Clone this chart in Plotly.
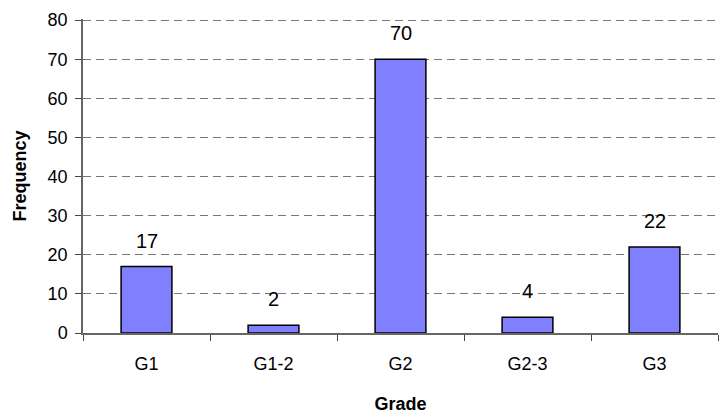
import plotly.graph_objects as go

grades = ["G1", "G1-2", "G2", "G2-3", "G3"]
frequency = [17, 2, 70, 4, 22]
y_ticks = [0, 10, 20, 30, 40, 50, 60, 70, 80]

fig = go.Figure()
fig.add_trace(go.Bar(
    x=grades, y=frequency,
    marker=dict(color="#8080FF", line=dict(color="black", width=1.5)),
    width=0.4,
))

for g, v in zip(grades, frequency):
    fig.add_annotation(x=g, y=v, text=str(v), showarrow=False, yanchor="middle",
                       yshift=26, font=dict(family="Liberation Sans, Arial", size=20, color="black"))

fig.update_layout(
    width=719, height=415,
    margin=dict(l=83, r=1, t=19, b=82),
    plot_bgcolor="white", paper_bgcolor="white",
    showlegend=False,
    font=dict(family="Liberation Sans, Arial", size=18, color="black"),
)
fig.update_xaxes(
    type="category", tickson="boundaries", ticks="outside", ticklen=6, tickcolor="#444",
    showline=True, linecolor="#666", linewidth=1.5, showgrid=False,
    ticklabelstandoff=14, automargin=False, tickfont=dict(size=18),
    title=dict(text="<b>Grade</b>", font=dict(size=18), standoff=24),
)
fig.update_yaxes(
    range=[0, 80.3], tickvals=y_ticks, ticks="outside", ticklen=6, tickcolor="#444",
    showline=True, linecolor="#666", linewidth=1.5,
    showgrid=True, gridcolor="#777", griddash="8px,5px", gridwidth=1,
    zeroline=False, ticklabelstandoff=4, automargin=False, tickfont=dict(size=18),
    title=dict(text="<b>Frequency</b>", font=dict(size=18), standoff=16),
)
fig.write_html("out.html", config={"displayModeBar": False},
               post_script="document.body.style.margin='0px';")
